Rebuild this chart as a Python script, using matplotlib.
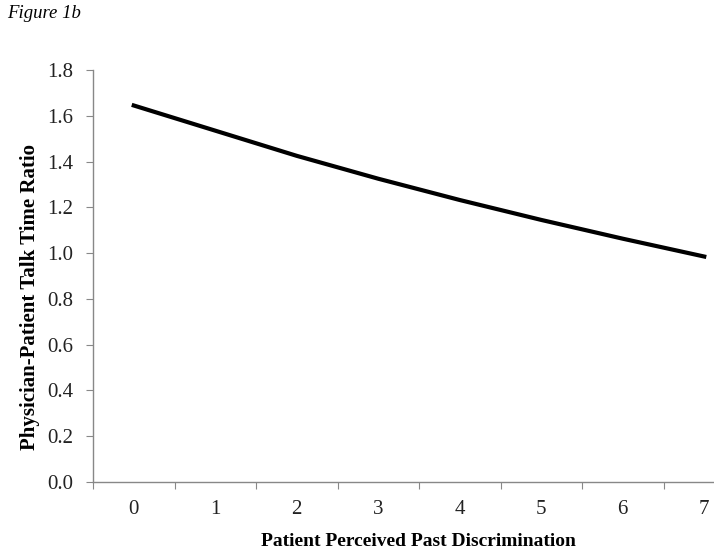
import matplotlib
matplotlib.use("Agg")
import matplotlib.pyplot as plt
import numpy as np

# datos
x = [0, 1, 2, 3, 4, 5, 6, 7]
ratio = [1.645, 1.535, 1.425, 1.325, 1.232, 1.145, 1.063, 0.985]
yticks = [0.0, 0.2, 0.4, 0.6, 0.8, 1.0, 1.2, 1.4, 1.6, 1.8]

plt.rcParams['font.family'] = ['Liberation Serif', 'DejaVu Serif']

fig = plt.figure(figsize=(7.14, 5.53), dpi=100)
# el eje sigue fuera del borde derecho, como en la original
ax = fig.add_axes([93/714, 1-482/553, 652/714, 412/553])

ax.plot(x, ratio, color="black", linewidth=3)
ax.set_xlim(-0.5, 7.5)
ax.set_ylim(0, 1.8)
ax.set_yticks(yticks)
ax.set_yticklabels(["%.1f" % v for v in yticks], fontsize=15, color="#222222")

# marcas entre categorias, etiquetas en el centro
ax.set_xticks(np.arange(-0.5, 8, 1))
ax.set_xticklabels([])
ax.set_xticks(x, minor=True)
ax.set_xticklabels([str(v) for v in x], minor=True, fontsize=15, color="#222222")
ax.tick_params(axis="x", which="minor", length=0, pad=13)
ax.tick_params(axis="x", which="major", length=5, color="#888888", direction="out")
ax.tick_params(axis="y", length=5, color="#888888", direction="out", pad=9)

for s in ["top", "right"]:
    ax.spines[s].set_visible(False)
for s in ["left", "bottom"]:
    ax.spines[s].set_color("#888888")
    ax.spines[s].set_linewidth(1)

fig.text(30/714, 1-297/553, "Physician-Patient Talk Time Ratio", rotation=90,
         ha="center", va="center", fontsize=15, fontweight="bold")
fig.text(418/714, 1-541/553, "Patient Perceived Past Discrimination",
         ha="center", va="center", fontsize=14, fontweight="bold")
fig.text(7/714, 1-14/553, "Figure 1b", ha="left", va="center",
         fontsize=13.5, style="italic")

fig.savefig("out.png", dpi=100)
